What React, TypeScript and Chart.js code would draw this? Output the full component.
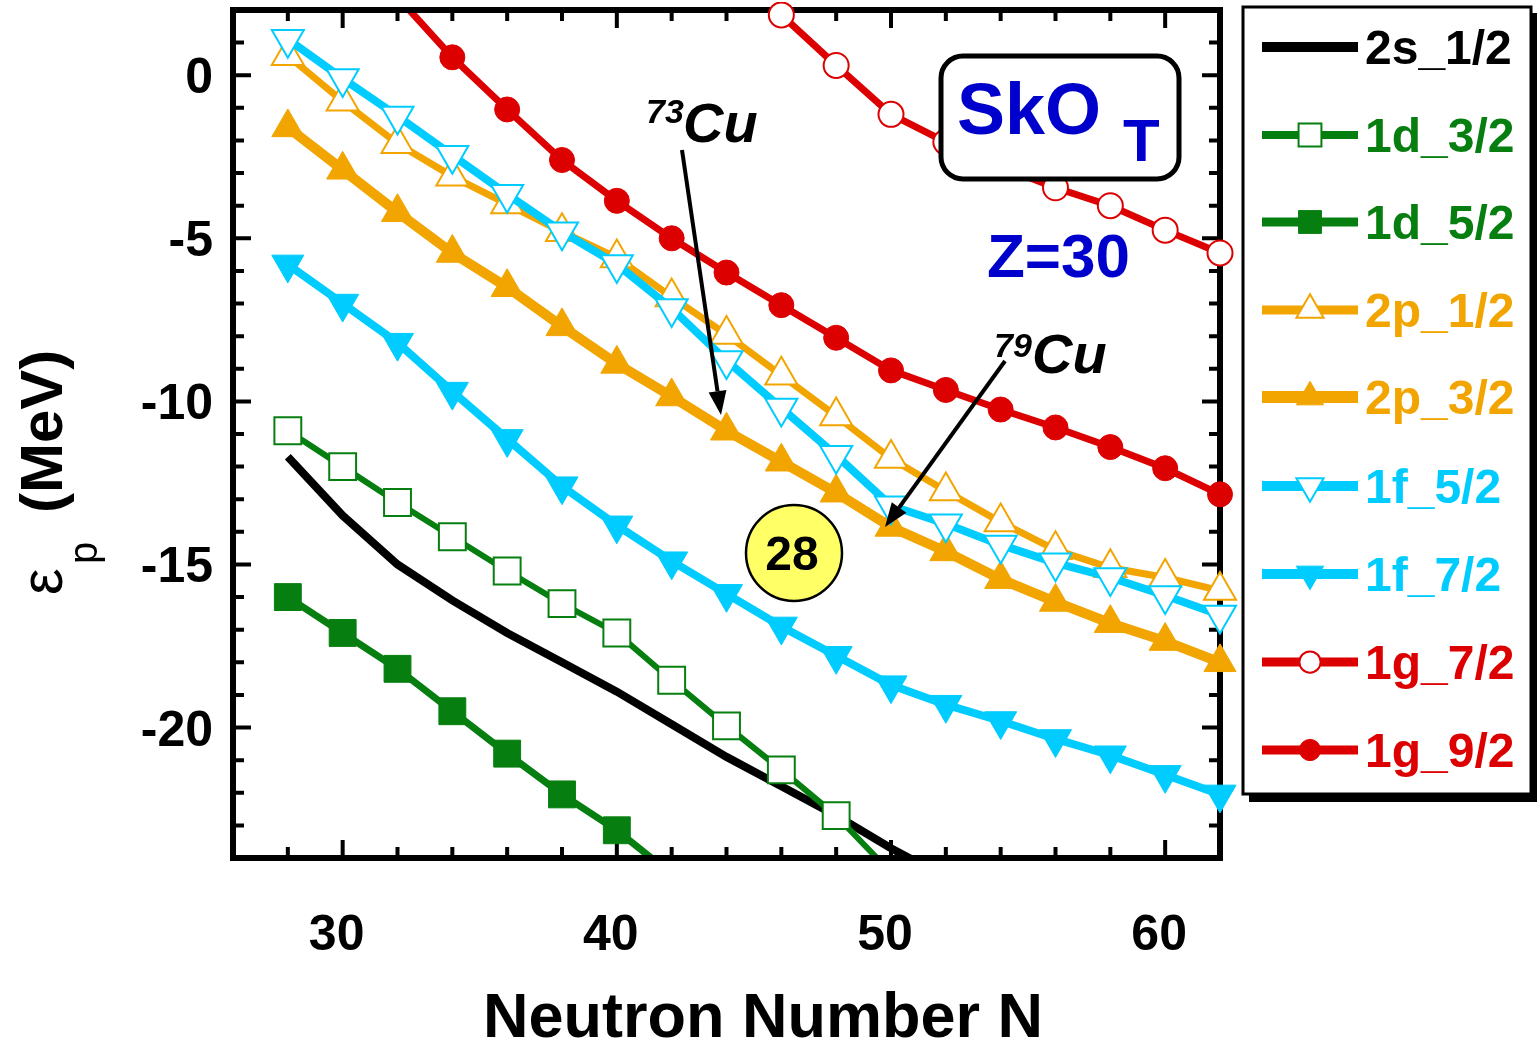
import React, { useEffect, useRef } from "react";
import { Chart, registerables } from "chart.js";

Chart.register(...registerables);

// ---------- data ----------
const N_ALL = [28, 30, 32, 34, 36, 38, 40, 42, 44, 46, 48, 50, 52, 54, 56, 58, 60, 62];
const N_2S = [28, 30, 32, 34, 36, 38, 40, 42, 44, 46, 48, 50, 52];
const N_1D32 = [28, 30, 32, 34, 36, 38, 40, 42, 44, 46, 48, 50];
const N_1D52 = [28, 30, 32, 34, 36, 38, 40, 42];
const N_1G72 = [46, 48, 50, 52, 54, 56, 58, 60, 62];
const N_1G92 = [32, 34, 36, 38, 40, 42, 44, 46, 48, 50, 52, 54, 56, 58, 60, 62];

const E_2S12 = [-11.7, -13.5, -15.0, -16.1, -17.1, -18.0, -18.9, -19.9, -20.9, -21.8, -22.7, -23.7, -24.6];
const E_1D32 = [-10.9, -12.0, -13.1, -14.15, -15.2, -16.2, -17.1, -18.55, -19.95, -21.3, -22.7, -24.45];
const E_1D52 = [-16.0, -17.1, -18.2, -19.5, -20.8, -22.05, -23.15, -24.5];
const E_2P12 = [0.6, -0.8, -2.1, -3.1, -3.95, -4.8, -5.6, -6.8, -7.95, -9.2, -10.45, -11.75, -12.75, -13.7, -14.55, -15.1, -15.4, -15.8];
const E_2P32 = [-1.6, -2.9, -4.2, -5.45, -6.5, -7.7, -8.85, -9.85, -10.9, -11.85, -12.8, -13.85, -14.6, -15.45, -16.15, -16.8, -17.35, -18.0];
const E_1F52 = [1.1, -0.1, -1.25, -2.45, -3.65, -4.8, -5.8, -7.15, -8.75, -10.2, -11.65, -13.2, -13.75, -14.4, -14.95, -15.4, -15.95, -16.55];
const E_1F72 = [-5.8, -7.0, -8.2, -9.7, -11.15, -12.6, -13.8, -14.9, -15.9, -16.9, -17.8, -18.7, -19.3, -19.8, -20.35, -20.85, -21.45, -22.05];
const E_1G72 = [1.85, 0.3, -1.2, -2.05, -2.8, -3.45, -4.0, -4.75, -5.45];
const E_1G92 = [2.4, 0.55, -1.05, -2.6, -3.85, -5.0, -6.05, -7.05, -8.05, -9.05, -9.65, -10.25, -10.8, -11.4, -12.05, -12.85];

const LABELS = ["2s_1/2", "1d_3/2", "1d_5/2", "2p_1/2", "2p_3/2", "1f_5/2", "1f_7/2", "1g_7/2", "1g_9/2"];
const X_TICKS = [30, 40, 50, 60];
const Y_TICKS = [0, -5, -10, -15, -20];
const X_TITLE = "Neutron Number N";

// ---------- styles ----------
const FONT = '"Liberation Sans", Arial, sans-serif';
const BLACK = "#000000";
const GREEN = "#077F10";
const ORANGE = "#F2A500";
const CYAN = "#00CCFF";
const RED = "#DD0000";
const BLUE = "#0000CC";

type Style = { color: string; lw: number; marker: string | null; open: boolean; down: boolean; r: number; top: number };
const STYLES: Style[] = [
  { color: BLACK, lw: 8, marker: null, open: false, down: false, r: 0, top: 8 },
  { color: GREEN, lw: 6, marker: "rect", open: true, down: false, r: 19, top: 8 },
  { color: GREEN, lw: 7, marker: "rect", open: false, down: false, r: 19, top: 8 },
  { color: ORANGE, lw: 7, marker: "triangle", open: true, down: false, r: 18.5, top: 8 },
  { color: ORANGE, lw: 10, marker: "triangle", open: false, down: false, r: 18.5, top: 8 },
  { color: CYAN, lw: 8, marker: "triangle", open: true, down: true, r: 18.5, top: 8 },
  { color: CYAN, lw: 8, marker: "triangle", open: false, down: true, r: 18.5, top: 8 },
  { color: RED, lw: 7, marker: "circle", open: true, down: false, r: 12.5, top: 8 },
  { color: RED, lw: 7, marker: "circle", open: false, down: false, r: 12.5, top: -3 },
];
const SERIES_N = [N_2S, N_1D32, N_1D52, N_ALL, N_ALL, N_ALL, N_ALL, N_1G72, N_1G92];
const SERIES_E = [E_2S12, E_1D32, E_1D52, E_2P12, E_2P32, E_1F52, E_1F72, E_1G72, E_1G92];

function text(ctx: CanvasRenderingContext2D, s: string, x: number, y: number, font: string, color: string, align: CanvasTextAlign = "left") {
  ctx.font = font;
  ctx.fillStyle = color;
  ctx.textAlign = align;
  ctx.textBaseline = "alphabetic";
  ctx.fillText(s, x, y);
}

function arrow(ctx: CanvasRenderingContext2D, x1: number, y1: number, x2: number, y2: number) {
  const ang = Math.atan2(y2 - y1, x2 - x1);
  const L = 24, W = 9;
  const bx = x2 - Math.cos(ang) * L, by = y2 - Math.sin(ang) * L;
  ctx.strokeStyle = "#000";
  ctx.lineWidth = 4;
  ctx.lineCap = "butt";
  ctx.beginPath();
  ctx.moveTo(x1, y1);
  ctx.lineTo(bx, by);
  ctx.stroke();
  ctx.fillStyle = "#000";
  ctx.beginPath();
  ctx.moveTo(x2, y2);
  ctx.lineTo(bx - Math.sin(ang) * W, by + Math.cos(ang) * W);
  ctx.lineTo(bx + Math.sin(ang) * W, by - Math.cos(ang) * W);
  ctx.closePath();
  ctx.fill();
}

function marker(ctx: CanvasRenderingContext2D, st: Style, x: number, y: number, scale: number) {
  if (!st.marker) return;
  const r = st.r * scale;
  ctx.beginPath();
  if (st.marker === "rect") {
    const h = r * Math.SQRT1_2;
    ctx.rect(x - h, y - h, 2 * h, 2 * h);
  } else if (st.marker === "circle") {
    ctx.arc(x, y, r, 0, Math.PI * 2);
  } else {
    const rot = st.down ? Math.PI : 0;
    for (let i = 0; i < 3; i++) {
      const a = rot + (i * 2 * Math.PI) / 3;
      const px = x + Math.sin(a) * r, py = y - Math.cos(a) * r;
      if (i === 0) ctx.moveTo(px, py); else ctx.lineTo(px, py);
    }
    ctx.closePath();
  }
  ctx.fillStyle = st.open ? "#fff" : st.color;
  ctx.fill();
  ctx.strokeStyle = st.color;
  ctx.lineWidth = st.open ? 2 : 1;
  ctx.stroke();
}

const decorPlugin = {
  id: "decor",
  beforeDatasetsDraw(chart: any) {
    const { ctx, chartArea: a, scales } = chart;
    const xs = scales.x, ys = scales.y;
    ctx.save();
    ctx.strokeStyle = "#000";
    ctx.lineWidth = 4;
    ctx.beginPath();
    for (let n = 28; n <= 60; n += 2) {
      const px = xs.getPixelForValue(n);
      const L = n % 10 === 0 ? 18 : 11;
      ctx.moveTo(px, a.bottom); ctx.lineTo(px, a.bottom - L);
      ctx.moveTo(px, a.top); ctx.lineTo(px, a.top + L);
    }
    for (let v = -23; v <= 1; v++) {
      const py = ys.getPixelForValue(v);
      const L = v % 5 === 0 ? 18 : 11;
      ctx.moveTo(a.left, py); ctx.lineTo(a.left + L, py);
      ctx.moveTo(a.right, py); ctx.lineTo(a.right - L, py);
    }
    ctx.stroke();
    ctx.lineWidth = 6;
    ctx.strokeRect(a.left, a.top, a.right - a.left, a.bottom - a.top);

    // tick labels
    for (const t of X_TICKS) {
      text(ctx, String(t), xs.getPixelForValue(t) - 6, 950, `bold 50px ${FONT}`, "#000", "center");
    }
    for (const t of Y_TICKS) {
      text(ctx, String(t), 213, ys.getPixelForValue(t) + 18, `bold 50px ${FONT}`, "#000", "right");
    }
    // axis titles
    text(ctx, X_TITLE, 763, 1037, `bold 63px ${FONT}`, "#000", "center");
    ctx.save();
    ctx.translate(62, 595);
    ctx.rotate(-Math.PI / 2);
    text(ctx, "ε", 0, 0, `60px ${FONT}`, "#000");
    text(ctx, "p", 31, 35, `40px ${FONT}`, "#000");
    text(ctx, "(MeV)", 82, 0, `bold 60px ${FONT}`, "#000");
    ctx.restore();
    ctx.restore();
  },
  afterDatasetsDraw(chart: any) {
    const { ctx } = chart;
    ctx.save();
    // SkO_T box
    ctx.beginPath();
    ctx.roundRect(941, 56, 238, 123, 22);
    ctx.fillStyle = "#fff";
    ctx.fill();
    ctx.lineWidth = 5;
    ctx.strokeStyle = "#000";
    ctx.stroke();
    text(ctx, "SkO", 957, 134, `bold 72px ${FONT}`, BLUE);
    text(ctx, "T", 1123, 161, `bold 60px ${FONT}`, BLUE);
    text(ctx, "Z=30", 987, 277, `bold 62px ${FONT}`, BLUE);

    // Cu labels
    text(ctx, "73", 646, 123, `italic bold 34px ${FONT}`, "#000");
    text(ctx, "Cu", 683, 142, `italic bold 56px ${FONT}`, "#000");
    text(ctx, "79", 994, 357, `italic bold 34px ${FONT}`, "#000");
    text(ctx, "Cu", 1032, 373, `italic bold 56px ${FONT}`, "#000");
    arrow(ctx, 682, 150, 721, 415);
    arrow(ctx, 1005, 361, 885, 527);

    // magic number circle
    ctx.beginPath();
    ctx.arc(794, 553, 48, 0, Math.PI * 2);
    ctx.fillStyle = "#FFFF66";
    ctx.fill();
    ctx.lineWidth = 2.5;
    ctx.strokeStyle = "#000";
    ctx.stroke();
    text(ctx, "28", 792, 570, `bold 48px ${FONT}`, "#000", "center");
    ctx.restore();
  },
  afterDraw(chart: any) {
    const { ctx } = chart;
    ctx.save();
    // legend box with shadow
    ctx.fillStyle = "#000";
    ctx.fillRect(1249, 13, 290, 789);
    ctx.fillStyle = "#fff";
    ctx.fillRect(1243, 7, 288, 787);
    ctx.lineWidth = 3;
    ctx.strokeStyle = "#000";
    ctx.strokeRect(1243, 7, 288, 787);
    const rowY = [47, 135, 222, 310, 397, 486, 574, 662, 750];
    LABELS.forEach((lab, i) => {
      const st = STYLES[i];
      const y = rowY[i];
      ctx.strokeStyle = st.color;
      ctx.lineWidth = st.lw + 2;
      ctx.beginPath();
      ctx.moveTo(1262, y);
      ctx.lineTo(1358, y);
      ctx.stroke();
      marker(ctx, st, 1310, y, 0.85);
      text(ctx, lab, 1365, y + 17, `bold 48px ${FONT}`, st.color);
    });
    ctx.restore();
  },
};

export default function App() {
  const ref = useRef<HTMLCanvasElement | null>(null);
  useEffect(() => {
    if (!ref.current) return;
    const datasets = LABELS.map((lab, i) => {
      const st = STYLES[i];
      const ns = SERIES_N[i];
      const es = SERIES_E[i];
      return {
        label: lab,
        data: ns.map((n, k) => ({ x: n, y: es[k] })),
        borderColor: st.color,
        borderWidth: st.lw,
        backgroundColor: st.color,
        pointStyle: st.marker || "circle",
        pointRadius: st.marker ? st.r : 0,
        pointHoverRadius: st.marker ? st.r : 0,
        pointRotation: st.down ? 180 : 0,
        pointBackgroundColor: st.open ? "#ffffff" : st.color,
        pointBorderColor: st.color,
        pointBorderWidth: st.open ? 2 : 1,
        tension: 0,
        fill: false,
        order: -i,
        clip: { left: -3, top: st.top, right: 25, bottom: -3 },
      };
    });
    const chart = new Chart(ref.current, {
      type: "line",
      data: { datasets },
      options: {
        animation: false,
        responsive: false,
        devicePixelRatio: 1,
        layout: { autoPadding: false, padding: { left: 233, right: 317, top: 10, bottom: 181 } },
        plugins: { legend: { display: false }, tooltip: { enabled: false } },
        events: [],
        scales: {
          x: { type: "linear", min: 26, max: 62, display: false },
          y: { type: "linear", min: -24, max: 2, display: false },
        },
      },
      plugins: [decorPlugin],
    } as any);
    return () => chart.destroy();
  }, []);
  return (
    <div style={{ position: "absolute", left: 0, top: 0, width: 1537, height: 1039, background: "#fff" }}>
      <canvas ref={ref} width={1537} height={1039} style={{ display: "block", width: 1537, height: 1039 }} />
    </div>
  );
}
